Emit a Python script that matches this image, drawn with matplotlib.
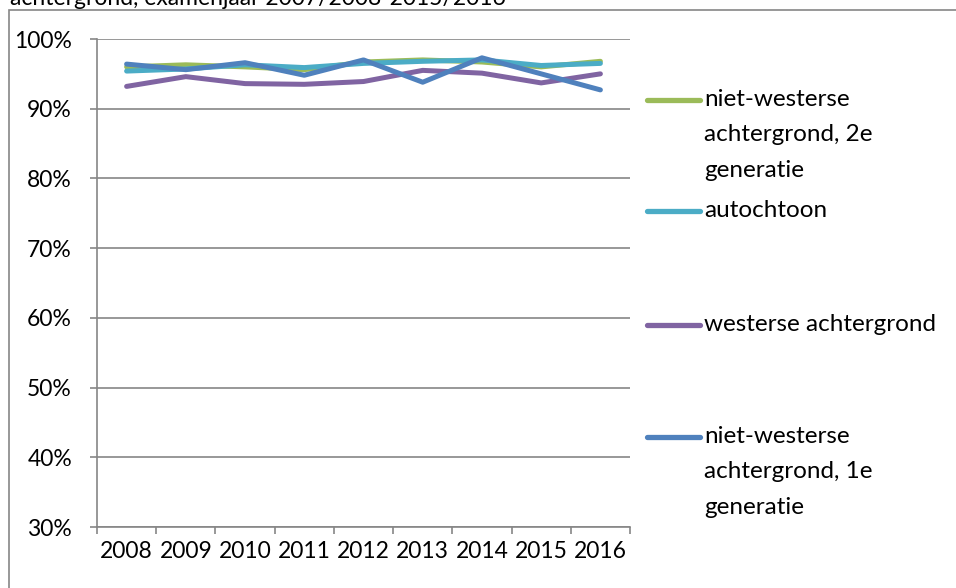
import matplotlib.pyplot as plt
from matplotlib.lines import Line2D
from matplotlib.patches import Rectangle
from matplotlib.ticker import FixedLocator

plt.rcParams['font.family'] = ['Lato', 'DejaVu Sans']

# data
jaren = ['2008', '2009', '2010', '2011', '2012', '2013', '2014', '2015', '2016']
nw_2e_gen = [96.0, 96.3, 96.0, 95.6, 96.7, 97.0, 96.7, 96.0, 96.8]
autochtoon = [95.4, 95.7, 96.3, 95.9, 96.5, 96.8, 97.0, 96.2, 96.5]
westers = [93.2, 94.6, 93.6, 93.5, 93.9, 95.5, 95.1, 93.7, 95.0]
nw_1e_gen = [96.4, 95.6, 96.6, 94.8, 97.0, 93.8, 97.3, 95.0, 92.7]

labels = ['niet-westerse\nachtergrond, 2e\ngeneratie', 'autochtoon',
          'westerse achtergrond', 'niet-westerse\nachtergrond, 1e\ngeneratie']
kleuren = ['#9BBB59', '#4BACC6', '#8064A2', '#4F81BD']
series = [nw_2e_gen, autochtoon, westers, nw_1e_gen]

fig = plt.figure(figsize=(9.56, 5.88), dpi=100)
ax = fig.add_axes([97 / 956, 1 - 527 / 588, (630 - 97) / 956, (527 - 39) / 588])

x = list(range(len(jaren)))
for vals, kleur in zip(series, kleuren):
    ax.plot(x, vals, color=kleur, linewidth=3.6, solid_capstyle='round')

ax.set_xlim(-0.5, len(jaren) - 0.5)
ax.set_ylim(30, 100)
ax.set_yticks(range(30, 101, 10))
ax.set_yticklabels([f'{v}%' for v in range(30, 101, 10)])
ax.set_xticks(x)
ax.set_xticklabels(jaren)
ax.xaxis.set_minor_locator(FixedLocator([i - 0.5 for i in range(len(jaren) + 1)]))
ax.tick_params(axis='x', which='major', length=0, pad=10, labelsize=16.5)
ax.tick_params(axis='x', which='minor', length=5, color='#868686', width=1.2)
ax.tick_params(axis='y', length=5, color='#868686', width=1.2, pad=13, labelsize=16.5)
ax.grid(axis='y', color='#868686', linewidth=1.2)
ax.set_axisbelow(True)
for s in ['top', 'right']:
    ax.spines[s].set_visible(False)
for s in ['left', 'bottom']:
    ax.spines[s].set_color('#868686')
    ax.spines[s].set_linewidth(1.2)

# legend on the right
leg_y = [100, 211, 325, 437]
for lab, kleur, yy in zip(labels, kleuren, leg_y):
    yf = 1 - yy / 588
    fig.add_artist(Line2D([647 / 956, 700 / 956], [yf, yf], color=kleur,
                          linewidth=3.8, solid_capstyle='round'))
    fig.text(704 / 956, yf + 11 / 588, lab, fontsize=17.5, va='top', ha='left',
             linespacing=1.85)

# chart border and cut-off title
fig.add_artist(Rectangle((9 / 956, -0.1), 1.2, 1.1 - 10 / 588, transform=fig.transFigure,
                         fill=False, edgecolor='#868686', linewidth=1.2))
fig.text(10 / 956, 1 - 5 / 588, 'achtergrond, examenjaar 2007/2008-2015/2016',
         fontsize=16.5, va='baseline', ha='left')

fig.savefig('out.png', dpi=100)
